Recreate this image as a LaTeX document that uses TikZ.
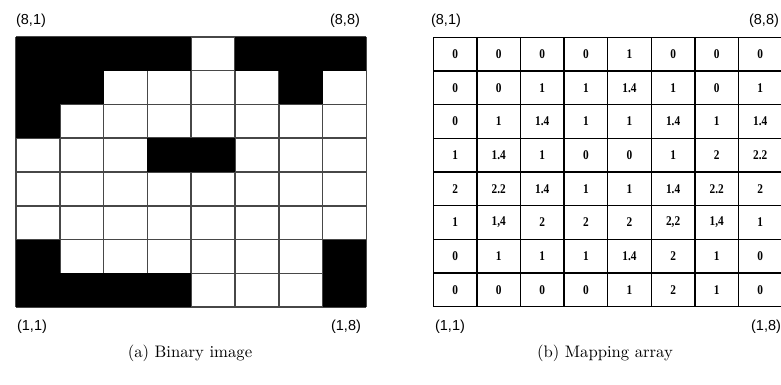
\documentclass[tikz,border=0pt]{standalone}
\usepackage{fontspec}
\newfontfamily\lblfont{Liberation Sans}
\newfontfamily\numfont{Liberation Serif}
\newcommand{\narrownum}[1]{\scalebox{0.85}[1]{#1}}
\begin{document}
\begin{tikzpicture}[x=0.6pt,y=-0.6pt,
  cornerlbl/.style={font=\lblfont\fontsize{8.7}{10}\selectfont, inner sep=0pt},
  numlbl/.style={font=\numfont\bfseries\fontsize{8}{9}\selectfont, inner sep=0pt},
  captext/.style={font=\normalsize, inner sep=0pt},
  gline/.style={draw=black!72, line width=0.95pt},
  kline/.style={draw=black, line width=0.85pt}]
\useasboundingbox (0,0) rectangle (781,384);
\fill[white] (0,0) rectangle (781,384);
% ---------- left grid: binary image ----------
\def\lx{16}\def\ly{36.8}\def\cw{43.8}\def\rh{33.81}
\foreach \i in {0,...,8}{
  \draw[gline] ({\lx+\i*\cw},\ly) -- ({\lx+\i*\cw},{\ly+8*\rh});
  \draw[gline] (\lx,{\ly+\i*\rh}) -- ({\lx+8*\cw},{\ly+\i*\rh});
}
\foreach \r/\c in {1/1,1/2,1/3,1/4,1/6,1/7,1/8,2/1,2/2,2/7,3/1,4/4,4/5,7/1,7/8,8/1,8/2,8/3,8/4,8/8}{
  \fill[black] ({\lx+(\c-1)*\cw},{\ly+(\r-1)*\rh}) rectangle ({\lx+\c*\cw},{\ly+\r*\rh});
}
% ---------- right grid: mapping array ----------
\def\qx{433.3}\def\qy{37.3}\def\qw{43.6}\def\qh{33.68}
\foreach \i in {0,...,8}{
  \draw[kline] ({\qx+\i*\qw},\qy) -- ({\qx+\i*\qw},{\qy+8*\qh});
  \draw[kline] (\qx,{\qy+\i*\qh}) -- ({\qx+8*\qw},{\qy+\i*\qh});
}
\foreach \row [count=\r] in {
  {0,0,0,0,1,0,0,0},
  {0,0,1,1,1.4,1,0,1},
  {0,1,1.4,1,1,1.4,1,1.4},
  {1,1.4,1,0,0,1,2,2.2},
  {2,2.2,1.4,1,1,1.4,2.2,2},
  {1,{1,4},2,2,2,{2,2},{1,4},1},
  {0,1,1,1,1.4,2,1,0},
  {0,0,0,0,1,2,1,0}}{
  \foreach \v [count=\c] in \row{
    \node[numlbl] (n\r-\c) at ({\qx+(\c-0.5)*\qw},{\qy+(\r-0.5)*\qh}) {\narrownum{\v}};
  }
}
% ---------- corner labels ----------
\node[cornerlbl] (a81) at (31,21) {(8,1)};
\node[cornerlbl] (a88) at (345,21) {(8,8)};
\node[cornerlbl] (a11) at (32,327) {(1,1)};
\node[cornerlbl] (a18) at (346,327) {(1,8)};
\node[cornerlbl] (b81) at (446,21) {(8,1)};
\node[cornerlbl] (b88) at (764,21) {(8,8)};
\node[cornerlbl] (b11) at (450,327) {(1,1)};
\node[cornerlbl] (b18) at (766,327) {(1,8)};
% ---------- captions ----------
\node[captext] (capa) at (190,353) {(a) Binary image};
\node[captext] (capb) at (605,353) {(b) Mapping array};
\end{tikzpicture}
\end{document}
